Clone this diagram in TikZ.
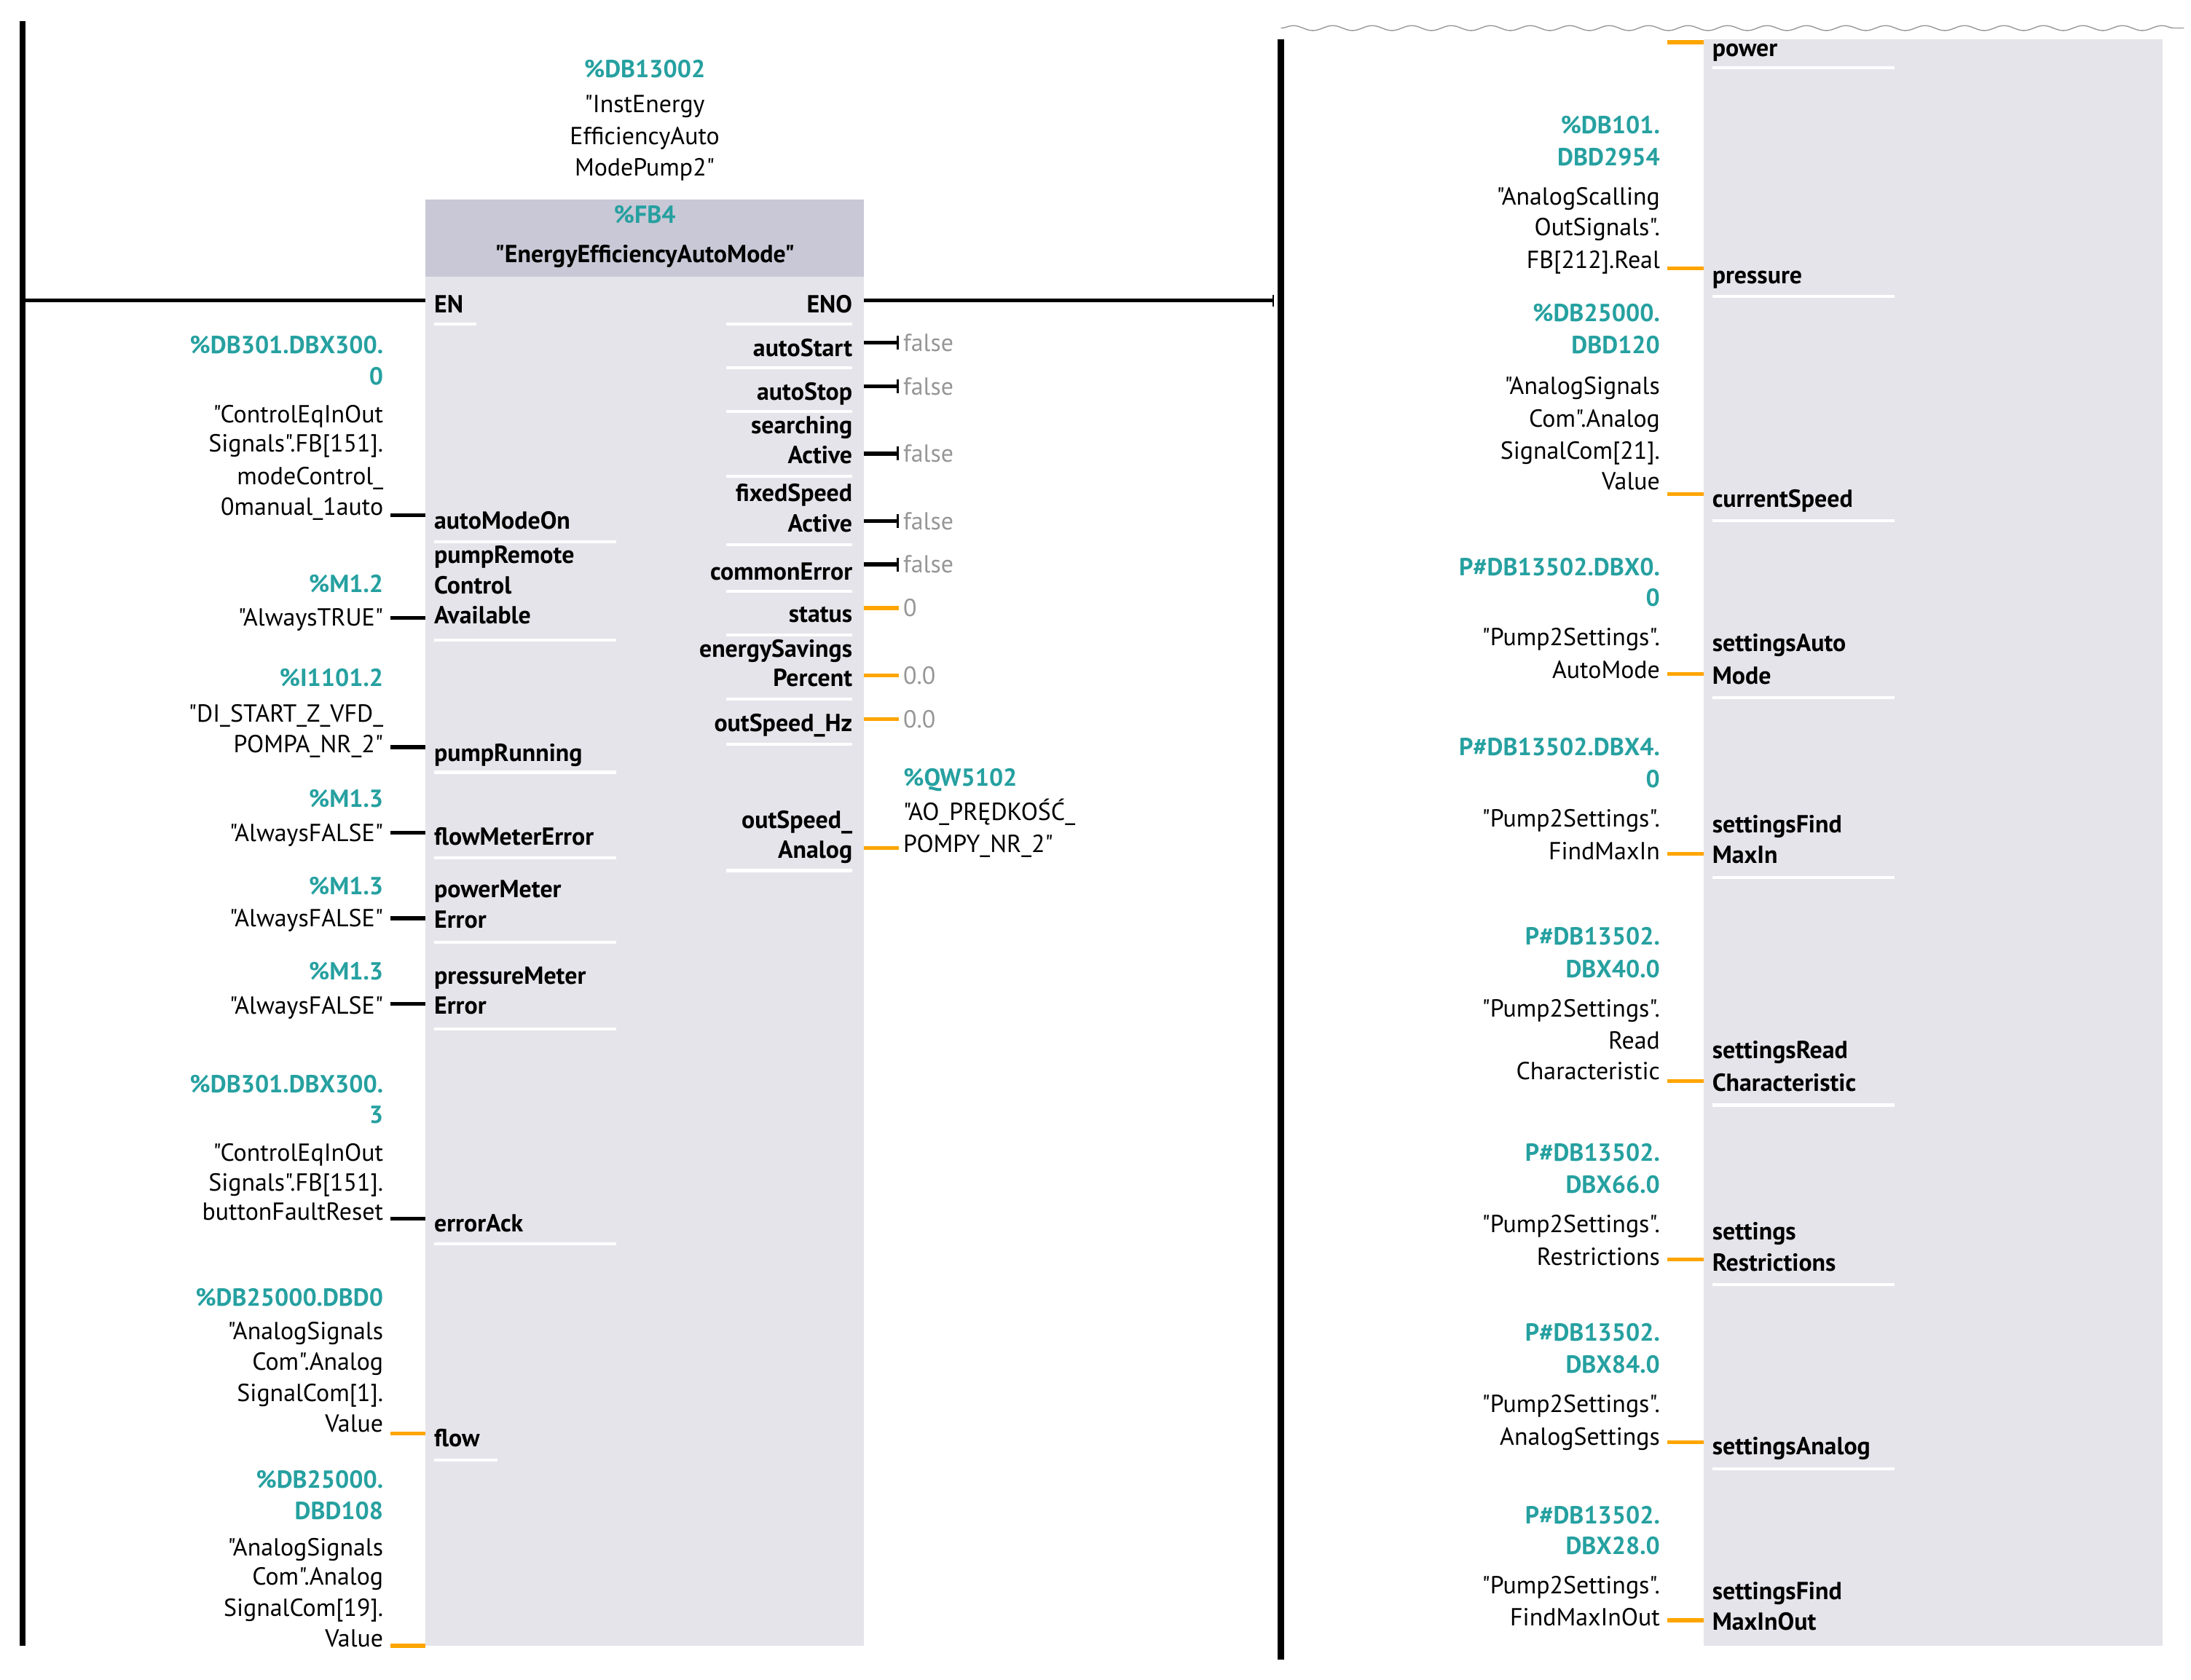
\documentclass[tikz,border=0pt]{standalone}
\usepackage{fontspec}
\setmainfont{PT Sans}[Ligatures=TeXOff]
\usetikzlibrary{arrows.meta,decorations.pathmorphing}
\definecolor{tiateal}{RGB}{38,160,160}
\definecolor{tiaorange}{RGB}{255,165,0}
\definecolor{tiablock}{RGB}{228,228,234}
\definecolor{tiahead}{RGB}{200,200,214}
\definecolor{tiagray}{RGB}{150,150,150}
\begin{document}
\begin{tikzpicture}[x=0.05cm,y=-0.05cm,font=\fontsize{25}{30}\selectfont,
  addr/.style={text=tiateal,font=\fontsize{25}{30}\selectfont\bfseries,inner sep=0pt},
  txt/.style={text=black,inner sep=0pt},
  pin/.style={text=black,font=\fontsize{25}{30}\selectfont\bfseries,inner sep=0pt},
  val/.style={text=tiagray,inner sep=0pt,anchor=west},
  bool/.style={draw=black,line width=4pt},
  ana/.style={draw=tiaorange,line width=4pt},
  rail/.style={line width=6pt},
  uline/.style={draw=white,line width=3pt}]
\useasboundingbox (0,0) rectangle (1560,1196);
% rails and blocks
\fill[tiablock] (303,142) rectangle (615,1172);
\fill[tiahead] (303,142) rectangle (615,197);
\fill[tiablock] (1213,28) rectangle (1540,1172);
\draw[rail] (16,15) coordinate (L-top) -- (16,1172) coordinate (L-bot);
\draw[rail] (912,28) coordinate (R-top) -- (912,1182) coordinate (R-bot);
\draw[tiagray,line width=1pt,decorate,decoration={snake,amplitude=2.5,segment length=40}]
  (912,20) -- (1555,20);
% instance and type
\foreach \Y/\S/\T in {48/addr/{\%DB13002},73/txt/{"InstEnergy},96/txt/{EfficiencyAuto},
  118/txt/{ModePump2"},152/addr/{\%FB4},180/pin/{"EnergyEfficiencyAutoMode"}}
  \node[\S,anchor=base] at (459,\Y+7) {\T};
% EN / ENO
\coordinate (EN-in) at (16,214);
\coordinate (EN-pin) at (303,214);
\coordinate (ENO-out) at (615,214);
\coordinate (ENO-end) at (907,214);
\draw[line width=4pt] (EN-in) -- (EN-pin);
\draw[line width=4pt,-{Bar[width=12pt,line width=1.5pt]}] (ENO-out) -- (ENO-end);
% left operands
\foreach \Y/\S/\T in {245/addr/{\%DB301.DBX300.},267/addr/0,294/txt/{"ControlEqInOut},
  315/txt/{Signals".FB[151].},338/txt/{modeControl\_},360/txt/{0manual\_1auto},
  415/addr/{\%M1.2},439/txt/{"AlwaysTRUE"},482/addr/{\%I1101.2},507/txt/{"DI\_START\_Z\_VFD\_},
  529/txt/{POMPA\_NR\_2"},568/addr/{\%M1.3},592/txt/{"AlwaysFALSE"},630/addr/{\%M1.3},
  653/txt/{"AlwaysFALSE"},691/addr/{\%M1.3},715/txt/{"AlwaysFALSE"},771/addr/{\%DB301.DBX300.},
  793/addr/3,820/txt/{"ControlEqInOut},841/txt/{Signals".FB[151].},862/txt/{buttonFaultReset},
  923/addr/{\%DB25000.DBD0},947/txt/{"AnalogSignals},969/txt/{Com".Analog},
  991/txt/{SignalCom[1].},1013/txt/{Value},1053/addr/{\%DB25000.},1075/addr/{DBD108},
  1101/txt/{"AnalogSignals},1122/txt/{Com".Analog},1144/txt/{SignalCom[19].},1166/txt/{Value}}
  \node[\S,anchor=base east] at (273,\Y+7) {\T};
% input pins
\foreach \Y/\T in {216/EN,370/autoModeOn,394/pumpRemote,416/Control,437/Available,
  535/pumpRunning,595/flowMeterError,632/powerMeter,654/Error,694/pressureMeter,715/Error,
  870/errorAck,1023/flow}
  \node[pin,anchor=base west] at (309,\Y+7) {\T};
\foreach \Y/\L in {231/30,386/130,456/130,550/130,611/130,671/130,733/130,886/130,1040/45}
  \draw[uline] (309,\Y) -- ++(\L,0);
\foreach \Y/\C [count=\i] in {367/bool,440/bool,532/bool,593/bool,654/bool,715/bool,
  868/bool,1021/ana,1172/ana}
  {\coordinate (LA-\i) at (278,\Y);
   \coordinate (LB-\i) at (303,\Y);
   \draw[\C] (LA-\i) -- (LB-\i);}
% output pins
\foreach \Y/\T in {216/ENO,247/autoStart,278/autoStop,302/searching,323/Active,
  350/fixedSpeed,372/Active,406/commonError,436/status,461/energySavings,482/Percent,
  514/outSpeed\_Hz,583/outSpeed\_,604/Analog}
  \node[pin,anchor=base east] at (607,\Y+7) {\T};
\foreach \Y in {231,262,293,339,388,421,452,498,530,620}
  \draw[uline] (607,\Y) -- ++(-90,0);
\foreach \Y/\V [count=\i] in {244/false,275/false,323/false,
  371/false,402/false,433/0,481/0.0,512/0.0,604/{}}
  {\coordinate (OA-\i) at (615,\Y);
   \coordinate (OB-\i) at (640,\Y);
   \node[val] (OV-\i) at (643,\Y) {\V};}
\foreach \i in {1,...,5}
  \draw[bool,-{Bar[width=14pt,line width=2pt]}] (OA-\i) -- (OB-\i);
\foreach \i in {6,...,9}
  \draw[ana] (OA-\i) -- (OB-\i);
\foreach \Y/\S/\T in {553/addr/{\%QW5102},577/txt/{"AO\_PRĘDKOŚĆ\_},600/txt/{POMPY\_NR\_2"}}
  \node[\S,anchor=base west] at (643,\Y+7) {\T};
% right operands
\foreach \Y/\S/\T in {88/addr/{\%DB101.},111/addr/{DBD2954},139/txt/{"AnalogScalling},
  161/txt/{OutSignals".},184/txt/{FB[212].Real},222/addr/{\%DB25000.},245/addr/{DBD120},
  274/txt/{"AnalogSignals},297/txt/{Com".Analog},320/txt/{SignalCom[21].},342/txt/{Value},
  403/addr/{P\#DB13502.DBX0.},425/addr/0,453/txt/{"Pump2Settings".},476/txt/{AutoMode},
  531/addr/{P\#DB13502.DBX4.},554/addr/0,582/txt/{"Pump2Settings".},605/txt/{FindMaxIn},
  666/addr/{P\#DB13502.},689/addr/{DBX40.0},717/txt/{"Pump2Settings".},740/txt/{Read},
  762/txt/{Characteristic},820/addr/{P\#DB13502.},843/addr/{DBX66.0},
  871/txt/{"Pump2Settings".},894/txt/{Restrictions},948/addr/{P\#DB13502.},
  971/addr/{DBX84.0},999/txt/{"Pump2Settings".},1022/txt/{AnalogSettings},
  1078/addr/{P\#DB13502.},1100/addr/{DBX28.0},1128/txt/{"Pump2Settings".},
  1151/txt/{FindMaxInOut}}
  \node[\S,anchor=base east] at (1182,\Y+7) {\T};
\foreach \Y/\T in {33/power,195/pressure,354/currentSpeed,457/settingsAuto,480/Mode,
  586/settingsFind,608/MaxIn,747/settingsRead,770/Characteristic,876/settings,
  898/Restrictions,1029/settingsAnalog,1132/settingsFind,1154/MaxInOut}
  \node[pin,anchor=base west] at (1219,\Y+7) {\T};
\foreach \Y in {48,211,371,497,625,787,915,1046}
  \draw[uline] (1219,\Y) -- ++(130,0);
\foreach \Y [count=\i] in {30,191,352,480,608,770,897,1027,1154}
  {\coordinate (RA-\i) at (1187,\Y);
   \coordinate (RB-\i) at (1213,\Y);
   \draw[ana] (RA-\i) -- (RB-\i);}
\end{tikzpicture}
\end{document}
